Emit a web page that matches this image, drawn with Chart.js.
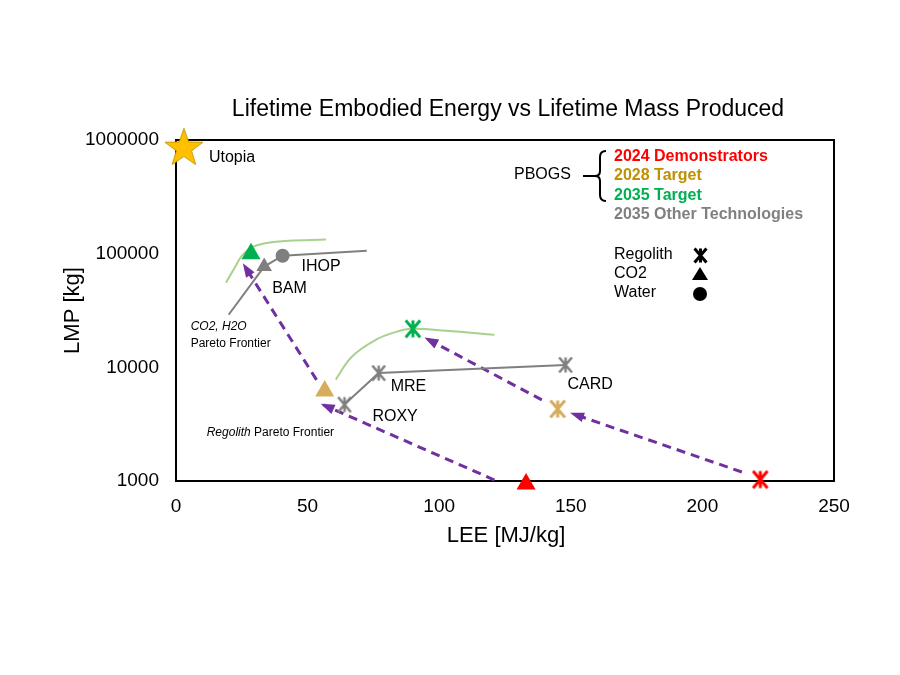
<!DOCTYPE html>
<html>
<head>
<meta charset="utf-8">
<script src="https://cdn.jsdelivr.net/npm/chart.js@4.4.0/dist/chart.umd.min.js"></script>
<style>
  html, body { margin: 0; padding: 0; background: #fff; }
</style>
</head>
<body>
<canvas id="myChart" width="900" height="675"></canvas>
<script>
/* values */
const xTicks = [0, 50, 100, 150, 200, 250];
const yTicks = [1000, 10000, 100000, 1000000];

const utopia = [{x: 3, y: 870000}];
const demo2024Regolith = [{x: 222, y: 1030}];
const demo2024CO2 = [{x: 133, y: 940}];
const target2028Regolith = [{x: 145, y: 4300}];
const target2028CO2 = [{x: 56.5, y: 6200}];
const target2035Regolith = [{x: 90, y: 21800}];
const target2035CO2 = [{x: 28.5, y: 100000}];
const otherRegolith = [{x: 64, y: 4700}, {x: 77, y: 8900}, {x: 148, y: 10500}];
const otherRegolithNames = ['ROXY', 'MRE', 'CARD'];
const otherCO2 = [{x: 33.5, y: 77000}];     // BAM
const otherWater = [{x: 40.5, y: 96000}];   // IHOP
const co2h2oFrontier = [{x: 20, y: 29000}, {x: 33.5, y: 77000}, {x: 40.5, y: 96000}, {x: 72.5, y: 106000}];
const co2Curve = [{x: 19, y: 55500}, {x: 22.5, y: 76800}, {x: 24.8, y: 94000}, {x: 28.6, y: 113000},
                  {x: 35, y: 125000}, {x: 42.7, y: 130000}, {x: 57, y: 133000}];
const regolithCurve = [{x: 60.7, y: 7800}, {x: 66.8, y: 12400}, {x: 76, y: 17500}, {x: 83.6, y: 20500},
                       {x: 89.7, y: 21800}, {x: 102.7, y: 21000}, {x: 121, y: 19300}];
const arrow1 = [{x: 121, y: 1020}, {x: 56, y: 4670}];
const arrow2 = [{x: 53.4, y: 7760}, {x: 26, y: 78300}];
const arrow3 = [{x: 215, y: 1200}, {x: 150.8, y: 3900}];
const arrow4 = [{x: 139, y: 5170}, {x: 95.4, y: 17800}];

const RED = '#ff0000', GOLD = '#d6ad5c', GOLDTXT = '#bf9000', GREEN = '#00b050',
      GRAY = '#7f7f7f', PURPLE = '#7030a0', LIGHTGREEN = '#a9d18e';
const FONT = '"Liberation Sans", Arial, sans-serif';

// asterisk marker (x with vertical bar)
function asterisk(color, r, lw) {
  const c = document.createElement('canvas');
  c.width = c.height = Math.ceil(2 * r + lw + 2);
  const g = c.getContext('2d');
  const m = c.width / 2;
  g.strokeStyle = color;
  g.lineWidth = lw;
  g.beginPath();
  g.moveTo(m - 0.85 * r, m - r); g.lineTo(m + 0.85 * r, m + r);
  g.moveTo(m + 0.85 * r, m - r); g.lineTo(m - 0.85 * r, m + r);
  g.moveTo(m, m - r); g.lineTo(m, m + r);
  g.stroke();
  return c;
}

function star5(fill, stroke, R, r) {
  const c = document.createElement('canvas');
  c.width = c.height = Math.ceil(2 * R + 2);
  const g = c.getContext('2d');
  const m = c.width / 2;
  g.beginPath();
  for (let i = 0; i < 10; i++) {
    const rad = (i % 2 === 0) ? R : r;
    const a = -Math.PI / 2 + i * Math.PI / 5;
    const px = m + rad * Math.cos(a), py = m + 1.5 + rad * Math.sin(a);
    if (i === 0) g.moveTo(px, py); else g.lineTo(px, py);
  }
  g.closePath();
  g.fillStyle = fill; g.fill();
  g.strokeStyle = stroke; g.lineWidth = 1; g.stroke();
  return c;
}

function marker(data, style, color, radius) {
  return { data: data, pointStyle: style, pointRadius: radius, pointHoverRadius: radius,
           backgroundColor: color, borderColor: color, borderWidth: 0, showLine: false, order: 0, clip: false };
}
function line(data, color, width, tension, dash) {
  return { data: data, showLine: true, pointRadius: 0, pointHoverRadius: 0, borderColor: color,
           borderWidth: width, tension: tension, borderDash: dash || [], order: 1, clip: false,
           backgroundColor: color };
}

const arrowSets = [arrow1, arrow2, arrow3, arrow4];

const datasets = [
  marker(utopia, star5('#ffc000', '#c99a00', 20, 8), '#ffc000', 20),
  marker(demo2024Regolith, asterisk(RED, 8.5, 3), RED, 9),
  marker(demo2024CO2, 'triangle', RED, 11),
  marker(target2028Regolith, asterisk(GOLD, 8.5, 3), GOLD, 9),
  marker(target2028CO2, 'triangle', GOLD, 11),
  marker(target2035Regolith, asterisk(GREEN, 8.5, 3), GREEN, 9),
  marker(target2035CO2, 'triangle', GREEN, 11),
  marker(otherRegolith, asterisk(GRAY, 7.5, 2.5), GRAY, 8),
  marker(otherCO2, 'triangle', GRAY, 9),
  marker(otherWater, 'circle', GRAY, 7),
  line(co2h2oFrontier, GRAY, 2, 0),
  line(otherRegolith, GRAY, 2, 0),
  line(co2Curve, LIGHTGREEN, 2, 0.4),
  line(regolithCurve, LIGHTGREEN, 2, 0.4)
];
const firstArrow = datasets.length;
arrowSets.forEach(a => datasets.push(line(a, PURPLE, 3, 0, [9, 6])));

function txt(ctx, s, x, y, font, color, align) {
  ctx.font = font;
  ctx.fillStyle = color;
  ctx.textAlign = align || 'left';
  ctx.textBaseline = 'middle';
  ctx.fillText(s, x, y);
}

const frame = {
  id: 'frame',
  beforeDatasetsDraw(chart) {
    const a = chart.chartArea, ctx = chart.ctx;
    ctx.save();
    ctx.strokeStyle = '#000';
    ctx.lineWidth = 2;
    ctx.strokeRect(a.left, a.top, a.right - a.left, a.bottom - a.top);
    ctx.restore();
  },
  afterDatasetsDraw(chart) {
    const ctx = chart.ctx, a = chart.chartArea;
    const xs = chart.scales.x, ys = chart.scales.y;
    const px = p => [xs.getPixelForValue(p.x), ys.getPixelForValue(p.y)];
    ctx.save();

    // arrow heads
    for (let i = 0; i < arrowSets.length; i++) {
      const pts = chart.getDatasetMeta(firstArrow + i).data;
      const s = pts[0], e = pts[1];
      const ang = Math.atan2(e.y - s.y, e.x - s.x);
      const L = 11, W = 5;
      ctx.beginPath();
      ctx.moveTo(e.x + 3 * Math.cos(ang), e.y + 3 * Math.sin(ang));
      ctx.lineTo(e.x - L * Math.cos(ang) - W * Math.sin(ang), e.y - L * Math.sin(ang) + W * Math.cos(ang));
      ctx.lineTo(e.x - L * Math.cos(ang) + W * Math.sin(ang), e.y - L * Math.sin(ang) - W * Math.cos(ang));
      ctx.closePath();
      ctx.fillStyle = PURPLE;
      ctx.fill();
    }

    // point labels
    const f16 = '16px ' + FONT;
    let p = px(utopia[0]);
    txt(ctx, 'Utopia', p[0] + 25, p[1] + 11, f16, '#000');
    p = px(otherWater[0]);
    txt(ctx, 'IHOP', p[0] + 19, p[1] + 11, f16, '#000');
    p = px(otherCO2[0]);
    txt(ctx, 'BAM', p[0] + 8, p[1] + 22, f16, '#000');
    const offs = [[28, 12], [12, 14], [2, 20]];
    otherRegolith.forEach((d, i) => {
      const q = px(d);
      txt(ctx, otherRegolithNames[i], q[0] + offs[i][0], q[1] + offs[i][1], f16, '#000');
    });

    // frontier captions
    p = px(co2h2oFrontier[0]);
    txt(ctx, 'CO2, H2O', p[0] - 38, p[1] + 12, 'italic 12px ' + FONT, '#000');
    txt(ctx, 'Pareto Frontier', p[0] - 38, p[1] + 29, '12px ' + FONT, '#000');
    p = px(target2028CO2[0]);
    ctx.font = 'italic 12px ' + FONT;
    const w = ctx.measureText('Regolith ').width;
    txt(ctx, 'Regolith', p[0] - 118, p[1] + 42, 'italic 12px ' + FONT, '#000');
    txt(ctx, 'Pareto Frontier', p[0] - 118 + w, p[1] + 42, '12px ' + FONT, '#000');

    // legend block
    const lx = a.left + 438, ly = a.top;
    txt(ctx, 'PBOGS', a.left + 338, ly + 35, f16, '#000');
    ctx.strokeStyle = '#000';
    ctx.lineWidth = 2;
    ctx.beginPath();
    ctx.moveTo(lx - 8, ly + 11);
    ctx.quadraticCurveTo(lx - 14, ly + 11, lx - 14, ly + 17);
    ctx.lineTo(lx - 14, ly + 31);
    ctx.quadraticCurveTo(lx - 14, ly + 36, lx - 19, ly + 36);
    ctx.quadraticCurveTo(lx - 14, ly + 36, lx - 14, ly + 41);
    ctx.lineTo(lx - 14, ly + 55);
    ctx.quadraticCurveTo(lx - 14, ly + 61, lx - 8, ly + 61);
    ctx.moveTo(lx - 31, ly + 36);
    ctx.lineTo(lx - 19, ly + 36);
    ctx.stroke();
    const b16 = 'bold 16px ' + FONT;
    txt(ctx, '2024 Demonstrators', lx, ly + 17, b16, RED);
    txt(ctx, '2028 Target', lx, ly + 36, b16, GOLDTXT);
    txt(ctx, '2035 Target', lx, ly + 56, b16, GREEN);
    txt(ctx, '2035 Other Technologies', lx, ly + 75, b16, '#808080');

    txt(ctx, 'Regolith', lx, ly + 115, f16, '#000');
    txt(ctx, 'CO2', lx, ly + 134, f16, '#000');
    txt(ctx, 'Water', lx, ly + 153, f16, '#000');
    const sx = lx + 86;
    ctx.drawImage(asterisk('#000', 7, 3), sx - 9, ly + 115 - 9);
    ctx.fillStyle = '#000';
    ctx.beginPath();
    ctx.moveTo(sx, ly + 127); ctx.lineTo(sx + 8, ly + 140); ctx.lineTo(sx - 8, ly + 140); ctx.closePath();
    ctx.fill();
    ctx.beginPath();
    ctx.arc(sx, ly + 154, 7, 0, Math.PI * 2);
    ctx.fill();

    // titles
    txt(ctx, 'Lifetime Embodied Energy vs Lifetime Mass Produced', (a.left + a.right) / 2 + 3, a.top - 30,
        '23px ' + FONT, '#000', 'center');
    txt(ctx, 'LEE [MJ/kg]', (a.left + a.right) / 2 + 1, a.bottom + 55, '22px ' + FONT, '#000', 'center');
    ctx.translate(a.left - 103, (a.top + a.bottom) / 2);
    ctx.rotate(-Math.PI / 2);
    txt(ctx, 'LMP [kg]', 0, 0, '22px ' + FONT, '#000', 'center');
    ctx.restore();
  }
};

const ctx = document.getElementById('myChart').getContext('2d');
const scatterChart = new Chart(ctx, {
  type: 'scatter',
  data: { datasets: datasets },
  options: {
    responsive: false,
    animation: false,
    layout: { padding: { left: 0, right: 66, top: 140, bottom: 154 } },
    plugins: { legend: { display: false }, tooltip: { enabled: false }, title: { display: false } },
    scales: {
      x: {
        type: 'linear', min: 0, max: 250,
        afterBuildTicks: s => { s.ticks = xTicks.map(v => ({value: v})); },
        afterFit: s => { s.height = 40; },
        grid: { display: false, drawTicks: false },
        border: { display: false },
        ticks: { color: '#000', padding: 14, font: { size: 19, family: FONT } }
      },
      y: {
        type: 'logarithmic', min: 1000, max: 1000000,
        afterBuildTicks: s => { s.ticks = yTicks.map(v => ({value: v})); },
        afterFit: s => { s.width = 176; },
        grid: { display: false, drawTicks: false },
        border: { display: false },
        ticks: { color: '#000', padding: 17, font: { size: 19, family: FONT },
                 callback: v => String(v) }
      }
    }
  },
  plugins: [frame]
});
</script>
</body>
</html>
